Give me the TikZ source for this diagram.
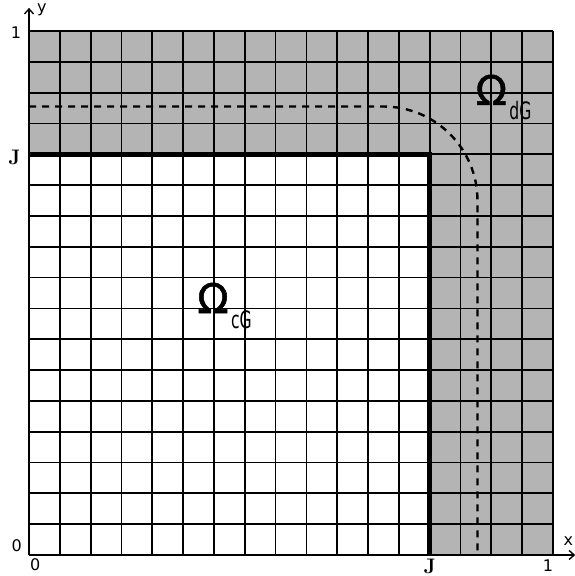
\documentclass[tikz,border=0pt]{standalone}
\usepackage{fontspec}
\setmainfont{DejaVu Sans}
\usepackage{graphicx}
\usetikzlibrary{arrows.meta}
\definecolor{regiongrey}{RGB}{180,180,180}
\newfontfamily\jfont{Latin Modern Roman}
\newfontfamily\omegafont[FakeBold=1.2]{DejaVu Sans}
\tikzset{
  gridline/.style={line width=1.8pt,black},
  jline/.style={line width=4.5pt,black},
  boundary/.style={line width=2.4pt,black,dash pattern=on 7pt off 6pt},
  axis/.style={line width=1.4pt,black,-{Straight Barb[length=5pt,width=9pt]}},
  ticklabel/.style={font=\fontsize{16}{16}\selectfont,inner sep=0pt},
  jlabel/.style={font=\jfont\bfseries\fontsize{21}{21}\selectfont,inner sep=0pt},
  omegalabel/.style={font=\omegafont\fontsize{41}{41}\selectfont,inner sep=0pt},
  sublabel/.style={inner sep=0pt,anchor=base west,yshift=-15pt,xshift=2pt}
}
\newcommand{\subcond}[1]{\scalebox{0.65}[1]{\fontsize{24}{24}\selectfont #1}}
\begin{document}
\begin{tikzpicture}[x=1pt,y=1pt]
\useasboundingbox (0,0) rectangle (574,576);
\begin{scope}[shift={(29pt,21pt)},x=30.8235pt,y=30.8235pt]
  % grey region
  \fill[regiongrey] (13,0) -- (17,0) -- (17,17) -- (0,17) -- (0,13) -- (13,13) -- cycle;
  % grid
  \foreach \i in {0,...,17} {
    \draw[gridline] (\i,0) -- (\i,17);
    \draw[gridline] (0,\i) -- (17,\i);
  }
  % J boundary
  \draw[jline] (0,13) -- (13,13) -- (13,0);
  % dashed boundary
  \draw[boundary] (0,14.55) -- (11.5,14.55) arc[start angle=90,end angle=0,radius=3.05] -- (14.55,0);
  % axes
  \coordinate (o) at (0,0);
  \coordinate (ytop) at (0,17);
  \coordinate (yend) at (0,17.75);
  \coordinate (xright) at (17,0);
  \coordinate (xend) at (17.72,0);
  \draw[axis] (ytop) -- (yend);
  \draw[axis] (xright) -- (xend);
  % labels
  \node[ticklabel] (ylab) at (0.42,17.7) {y};
  \node[ticklabel] (xlab) at (17.5,0.45) {x};
  \node[ticklabel] (one_y) at (-0.42,16.95) {1};
  \node[ticklabel] (zero_y) at (-0.4,0.3) {0};
  \node[ticklabel] (zero_x) at (0.2,-0.33) {0};
  \node[ticklabel] (one_x) at (16.84,-0.33) {1};
  \node[jlabel] (j_y) at (-0.47,12.9) {J};
  \node[jlabel] (j_x) at (13.0,-0.36) {J};
  \node[omegalabel,anchor=base] (ocg) at (5.97,7.85) {Ω};
  \node[sublabel] (ocgsub) at (ocg.base east) {\subcond{cG}};
  \node[omegalabel,anchor=base] (odg) at (15.0,14.6) {Ω};
  \node[sublabel] (odgsub) at (odg.base east) {\subcond{dG}};
\end{scope}
\end{tikzpicture}
\end{document}
